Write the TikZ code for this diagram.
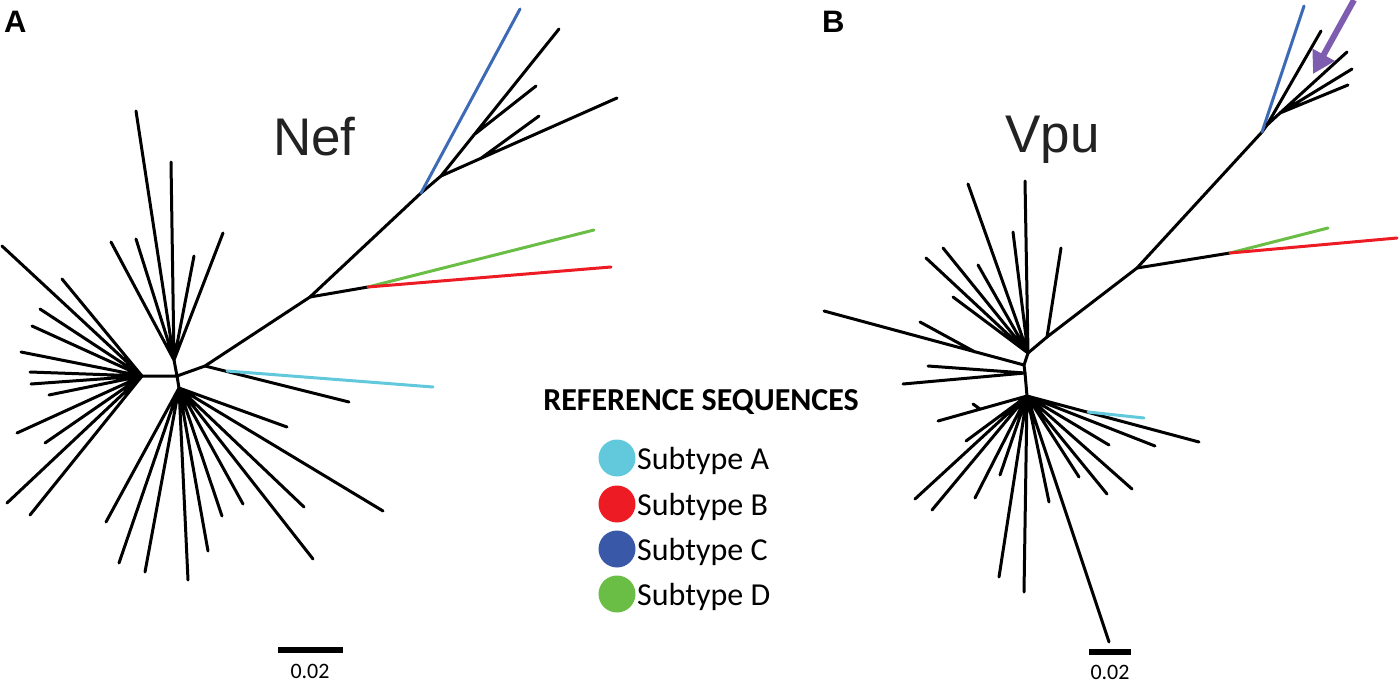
\documentclass[tikz,border=0pt]{standalone}
\usepackage{fontspec}
\setmainfont{Carlito}
\newfontfamily\arialfont{Liberation Sans}
\usetikzlibrary{arrows.meta}
\definecolor{subA}{RGB}{98,201,221}
\definecolor{subB}{RGB}{237,28,36}
\definecolor{subC}{RGB}{61,106,182}
\definecolor{subCdot}{RGB}{58,88,168}
\definecolor{subD}{RGB}{106,189,69}
\definecolor{arrowpurple}{RGB}{126,92,176}
\definecolor{genegray}{RGB}{34,34,34}
\tikzset{
  branch/.style={line width=3pt,line cap=round},
  scalebar/.style={line width=6pt},
  genename/.style={font=\arialfont\fontsize{53}{60}\selectfont,text=genegray,anchor=base west,inner sep=0pt},
  panel/.style={font=\arialfont\bfseries\fontsize{31}{34}\selectfont,anchor=base west,inner sep=0pt},
  legdot/.style={circle,inner sep=0pt,minimum size=37pt},
  legtext/.style={font=\fontsize{32}{36}\selectfont,anchor=west,inner sep=0pt},
  scaletext/.style={font=\fontsize{22}{24}\selectfont,inner sep=0pt}
}
\begin{document}
\begin{tikzpicture}[x=1pt,y=-1pt]
            \useasboundingbox (0,0) rectangle (1399,682);
            \node[panel] (labA) at (4,33) {A};
            \node[panel] (labB) at (822,33) {B};
            \node[genename] (nef) at (273,155) {Nef};
            \node[genename] (vpu) at (1005,153) {Vpu};
            % tree A
            \coordinate (aL) at (142,376);
            \coordinate (aC) at (177,376);
            \coordinate (aU) at (174,360);
            \coordinate (aD) at (179,388);
            \coordinate (aR) at (205,366);
            \coordinate (aCy) at (227,371);
            \coordinate (aG) at (310,297);
            \coordinate (aGR) at (368,287);
            \coordinate (aK) at (421,193);
            \coordinate (aK2) at (441,176);
            \coordinate (aK3) at (475,134);
            \coordinate (aK4) at (480,159);
            \draw[branch] (aL) -- (aC) -- (aU);
            \draw[branch] (aC) -- (aD);
            \draw[branch] (aC) -- (aR) -- (aG) -- (aK) -- (aK2);
            \draw[branch] (aU) -- (136,111) (aU) -- (171,162) (aU) -- (111,242)
                          (aU) -- (136,239) (aU) -- (194,256) (aU) -- (223,233);
            \draw[branch] (aL) -- (2,246) (aL) -- (62,279) (aL) -- (40,309)
                          (aL) -- (32,326) (aL) -- (21,352) (aL) -- (30,372)
                          (aL) -- (31,384) (aL) -- (49,395) (aL) -- (17,433)
                          (aL) -- (45,443) (aL) -- (7,503) (aL) -- (30,515);
            \draw[branch] (aD) -- (106,522) (aD) -- (119,563) (aD) -- (145,572)
                          (aD) -- (188,580) (aD) -- (208,551) (aD) -- (222,516)
                          (aD) -- (243,504) (aD) -- (304,507) (aD) -- (313,559)
                          (aD) -- (383,511) (aD) -- (287,427);
            \draw[branch] (aR) -- (349,402);
            \draw[branch,subA] (aCy) -- (433,387);
            \draw[branch] (aG) -- (aGR);
            \draw[branch,subD] (aGR) -- (594,230);
            \draw[branch,subB] (aGR) -- (611,267);
            \draw[branch,subC] (aK) -- (520,9);
            \draw[branch] (aK2) -- (559,29) (aK2) -- (617,98)
                          (aK3) -- (536,86) (aK4) -- (539,116);
            \draw[scalebar] (278,650) -- (343,650);
            \node[scaletext] (barA) at (310,671) {0.02};
            % tree B
            \coordinate (bT) at (1028,353);
            \coordinate (bL) at (1024,365);
            \coordinate (bM) at (1025,373);
            \coordinate (bD) at (1027,396);
            \coordinate (bJ) at (975,352);
            \coordinate (bTb) at (1047,337);
            \coordinate (bG) at (1137,268);
            \coordinate (bGR) at (1230,253);
            \coordinate (bK) at (1262,132);
            \coordinate (bK2) at (1267,125);
            \coordinate (bK3) at (1280,113);
            \coordinate (bCy) at (1088,412);
            \coordinate (bHook) at (980,409);
            \draw[branch] (bT) -- (bL) -- (bM) -- (bD);
            \draw[branch] (bT) -- (bTb) -- (bG) -- (bK) -- (bK2) -- (bK3);
            \draw[branch] (bT) -- (968,184) (bT) -- (1025,181) (bT) -- (1013,232)
                          (bT) -- (926,258) (bT) -- (943,248) (bT) -- (978,265)
                          (bT) -- (953,297) (bTb) -- (1061,248);
            \draw[branch] (bL) -- (824,311) (bJ) -- (920,322)
                          (bM) -- (928,366) (bM) -- (903,384);
            \draw[branch] (bD) -- (938,421) (bHook) -- (973,404)
                          (bD) -- (966,441) (bD) -- (915,499) (bD) -- (932,510)
                          (bD) -- (975,498) (bD) -- (1000,475) (bD) -- (999,577)
                          (bD) -- (1024,592) (bD) -- (1049,502) (bD) -- (1109,642)
                          (bD) -- (1079,477) (bD) -- (1107,494) (bD) -- (1132,489)
                          (bD) -- (1109,445) (bD) -- (1155,446) (bD) -- (1199,442);
            \draw[branch,subA] (bCy) -- (1144,418);
            \draw[branch] (bG) -- (bGR);
            \draw[branch,subD] (bGR) -- (1328,228);
            \draw[branch,subB] (bGR) -- (1397,238);
            \draw[branch,subC] (bK) -- (1304,6);
            \draw[branch] (bK2) -- (1321,31) (bK3) -- (1347,52)
                          (bK3) -- (1352,69) (bK3) -- (1348,85);
            \coordinate (arrowtail) at (1354,0);
            \coordinate (arrowtip) at (1313,74);
            \draw[-{Triangle[length=22pt,width=24pt]},line width=6pt,arrowpurple] (arrowtail) -- (arrowtip);
            \draw[scalebar] (1089,652) -- (1131,652);
            \node[scaletext] (barB) at (1110,672) {0.02};
            % legend
            \node[font=\bfseries\fontsize{32}{35}\selectfont,inner sep=0pt] (legtitle) at (701,402) {REFERENCE SEQUENCES};
            \node[legdot,fill=subA] (dotA) at (617,458) {};
            \node[legdot,fill=subB] (dotB) at (617,504) {};
            \node[legdot,fill=subCdot] (dotC) at (617,549) {};
            \node[legdot,fill=subD] (dotD) at (617,594) {};
            \node[legtext] (txtA) at (637,461) {Subtype A};
            \node[legtext] (txtB) at (637,507) {Subtype B};
            \node[legtext] (txtC) at (637,552) {Subtype C};
            \node[legtext] (txtD) at (637,597) {Subtype D};
        \end{tikzpicture}
\end{document}
